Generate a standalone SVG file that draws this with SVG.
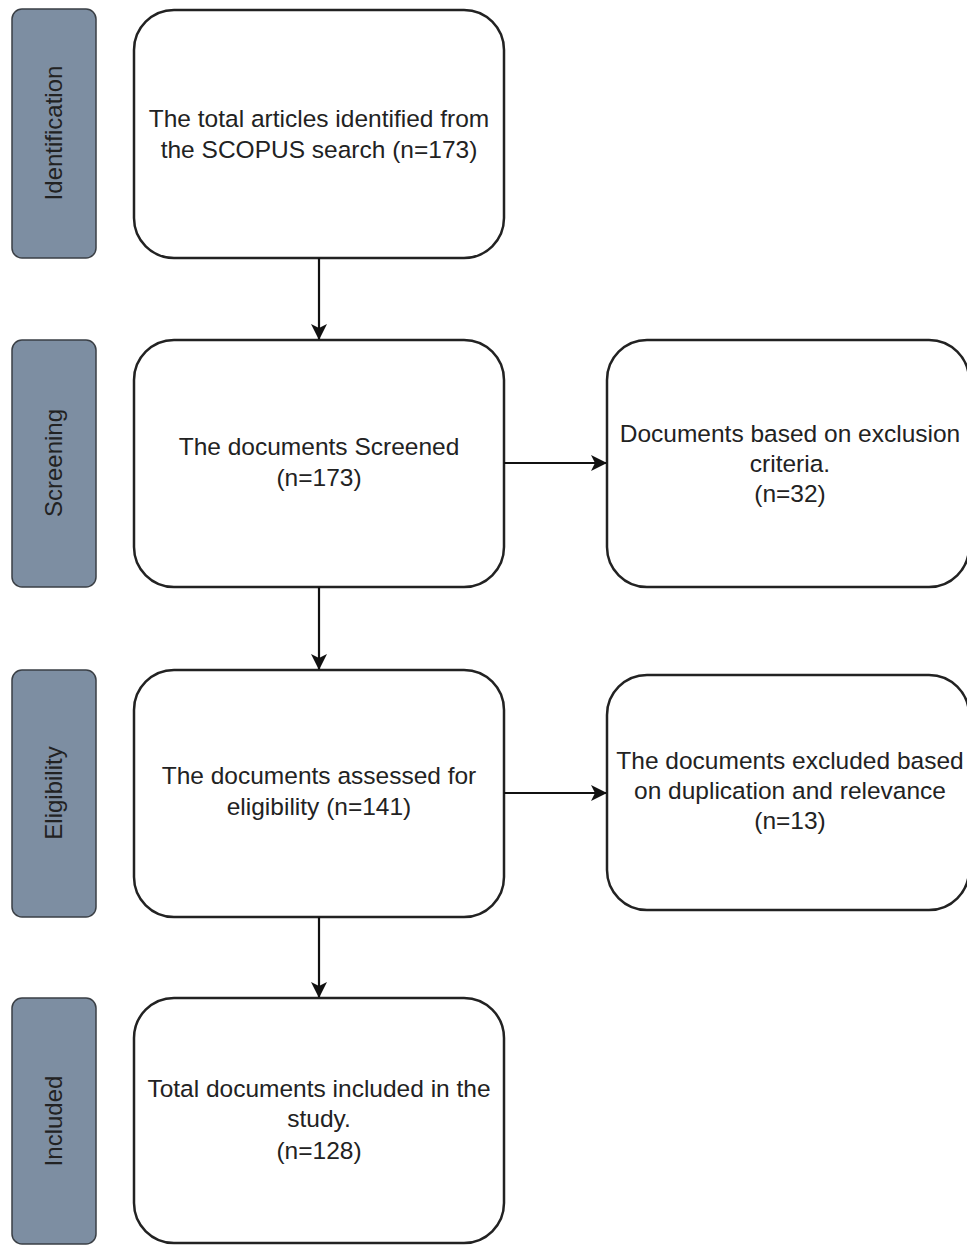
<svg xmlns="http://www.w3.org/2000/svg" width="967" height="1245" viewBox="0 0 967 1245">
<defs>
<style>
.stage{fill:#7d8ea2;stroke:#3a3f45;stroke-width:1.5}
.box{fill:#ffffff;stroke:#222;stroke-width:2.5}
.t{font-family:"Liberation Sans",Arial,sans-serif;font-size:24.5px;fill:#222;text-anchor:middle}
.s{font-family:"Liberation Sans",Arial,sans-serif;font-size:24px;fill:#222;text-anchor:middle}
.c{stroke:#111;stroke-width:2.2;fill:none}
</style>
<marker id="ah" viewBox="0 0 16 16" refX="15" refY="8" markerWidth="16" markerHeight="16" markerUnits="userSpaceOnUse" orient="auto">
<path d="M0,0 L16,8 L0,16 L4,8 Z" fill="#111"/>
</marker>
</defs>
<rect width="967" height="1245" fill="#fff"/>
<g id="stage-identification"><rect class="stage" x="12" y="9" width="84" height="249" rx="10"/><text class="s" transform="translate(62,133) rotate(-90)">Identification</text></g>
<g id="stage-screening"><rect class="stage" x="12" y="340" width="84" height="247" rx="10"/><text class="s" transform="translate(62,463) rotate(-90)">Screening</text></g>
<g id="stage-eligibility"><rect class="stage" x="12" y="670" width="84" height="247" rx="10"/><text class="s" transform="translate(62,793) rotate(-90)">Eligibility</text></g>
<g id="stage-included"><rect class="stage" x="12" y="998" width="84" height="246" rx="10"/><text class="s" transform="translate(62,1121) rotate(-90)">Included</text></g>
<g id="box-identified"><rect class="box" x="134" y="10" width="370" height="248" rx="40"/><text class="t" x="319" y="127">The total articles identified from</text><text class="t" x="319" y="158">the SCOPUS search (n=173)</text></g>
<g id="box-screened"><rect class="box" x="134" y="340" width="370" height="247" rx="40"/><text class="t" x="319" y="455">The documents Screened</text><text class="t" x="319" y="486">(n=173)</text></g>
<g id="box-excluded-criteria"><rect class="box" x="607" y="340" width="362" height="247" rx="40"/><text class="t" x="790" y="442">Documents based on exclusion</text><text class="t" x="790" y="472">criteria.</text><text class="t" x="790" y="502">(n=32)</text></g>
<g id="box-eligibility"><rect class="box" x="134" y="670" width="370" height="247" rx="40"/><text class="t" x="319" y="784">The documents assessed for</text><text class="t" x="319" y="815">eligibility (n=141)</text></g>
<g id="box-excluded-dup"><rect class="box" x="607" y="675" width="362" height="235" rx="40"/><text class="t" x="790" y="769">The documents excluded based</text><text class="t" x="790" y="799">on duplication and relevance</text><text class="t" x="790" y="829">(n=13)</text></g>
<g id="box-included"><rect class="box" x="134" y="998" width="370" height="245" rx="40"/><text class="t" x="319" y="1097">Total documents included in the</text><text class="t" x="319" y="1127">study.</text><text class="t" x="319" y="1159">(n=128)</text></g>
<g id="connectors">
<line class="c" x1="319" y1="258" x2="319" y2="339" marker-end="url(#ah)"/>
<line class="c" x1="319" y1="587" x2="319" y2="669" marker-end="url(#ah)"/>
<line class="c" x1="319" y1="917" x2="319" y2="997" marker-end="url(#ah)"/>
<line class="c" x1="504" y1="463" x2="606" y2="463" marker-end="url(#ah)"/>
<line class="c" x1="504" y1="793" x2="606" y2="793" marker-end="url(#ah)"/>
</g>
</svg>
